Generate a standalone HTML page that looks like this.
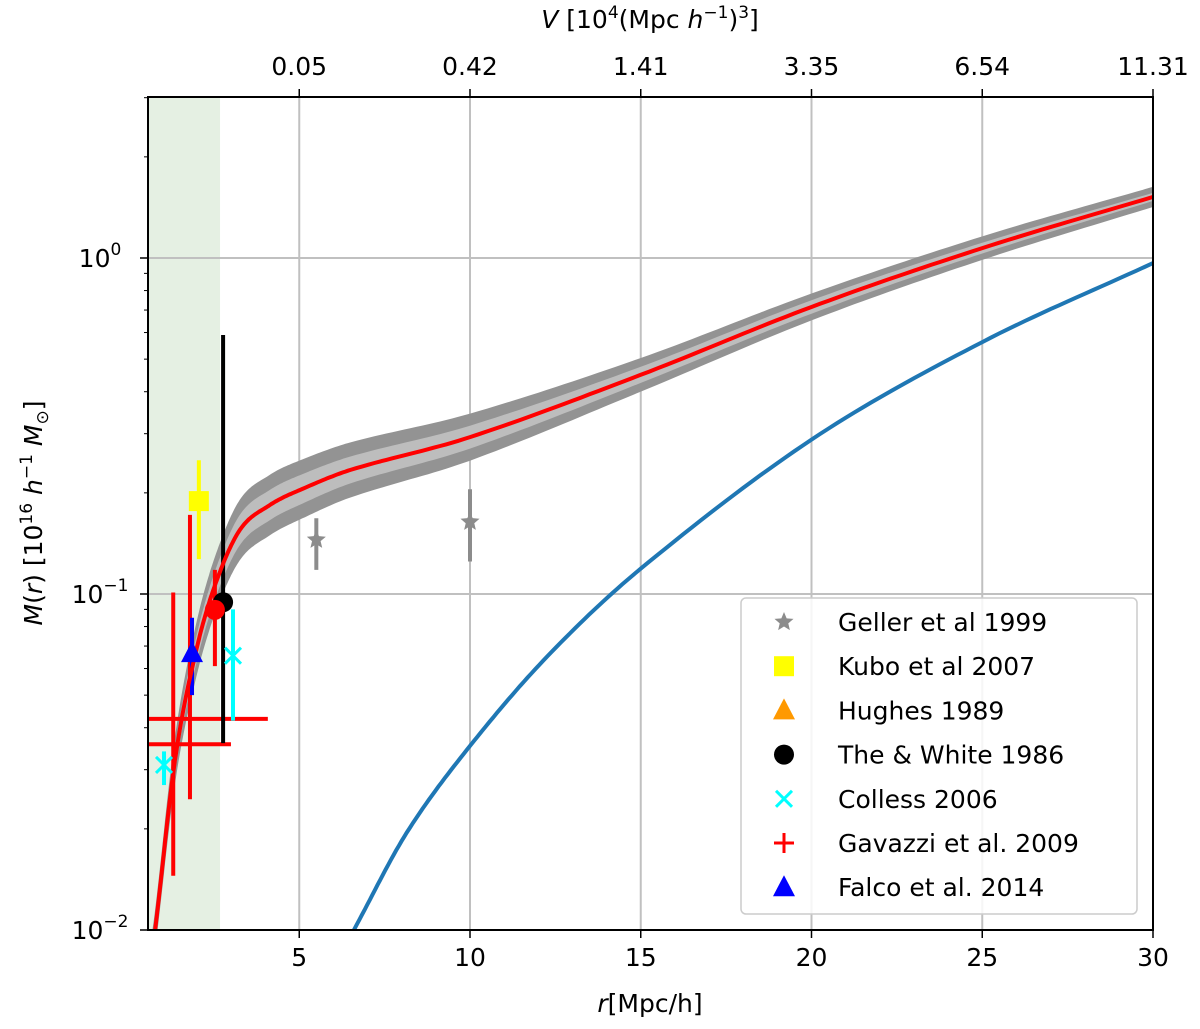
<!DOCTYPE html>
<html><head><meta charset="utf-8"><style>
body{margin:0;background:#fff}
svg{display:block;font-family:"DejaVu Sans","Liberation Sans",sans-serif}
</style></head><body>
<svg id="chart" width="1200" height="1029" viewBox="0 0 1200 1029" xmlns="http://www.w3.org/2000/svg">
<defs><clipPath id="clip"><rect x="148" y="97" width="1005" height="833"/></clipPath></defs>
<g id="plot" clip-path="url(#clip)"></g>
<g id="axes"></g>
</svg>
<script>
const curveR=[0.6,0.78,1.36,1.95,2.53,3.26,4.14,5.02,6.5,10,15,20,25,30];
const curveM=[0.0075,0.01,0.032,0.0658,0.106,0.155,0.184,0.204,0.234,0.293,0.449,0.715,1.07,1.52];
const bandOuter=[0.06,0.06,0.07,0.08,0.085,0.09,0.09,0.088,0.082,0.07,0.05,0.04,0.035,0.03];
const bandInner=[0.03,0.03,0.035,0.04,0.042,0.045,0.045,0.044,0.04,0.034,0.024,0.02,0.016,0.012];
const blueR=[6.6,8.15,10,12.25,15,20,25,30];
const blueM=[0.01,0.0195,0.0353,0.065,0.119,0.288,0.562,0.966];
const gellerR=[5.5,10], gellerM=[0.145,0.164], gellerLo=[0.118,0.125], gellerHi=[0.168,0.205];
const kuboR=[2.06], kuboM=[0.189], kuboLo=[0.127], kuboHi=[0.25];
const theR=[2.77], theM=[0.0945], theLo=[0.036], theHi=[0.59];
const redDotR=[2.53], redDotM=[0.0897], redDotLo=[0.061], redDotHi=[0.118];
const falcoR=[1.86], falcoM=[0.0667], falcoLo=[0.05], falcoHi=[0.085];
const collessR=[3.06,1.04], collessM=[0.0655,0.031], collessLo=[0.042,0.027], collessHi=[0.09,0.034];
const gavR=[1.31,1.8], gavM=[0.0357,0.0425], gavLo=[0.0145,0.0245], gavHi=[0.101,0.172], gavXLo=[0.57,0.57], gavXHi=[3.0,4.08];
const xTicks=[5,10,15,20,25,30];
const topLabels=["0.05","0.42","1.41","3.35","6.54","11.31"];
const yDecades=[-2,-1,0];

const X=r=>128.5+34.15*r;
const Y=m=>258-336*Math.log10(m);
const NS="http://www.w3.org/2000/svg";
const plot=document.getElementById('plot'), axes=document.getElementById('axes');
function mk(tag,attrs,parent,txt){const e=document.createElementNS(NS,tag);for(const k in attrs)e.setAttribute(k,attrs[k]);if(txt!==undefined)e.textContent=txt;parent.appendChild(e);return e;}

function sample(rs,ls){const n=rs.length,t=[];for(let i=0;i<n;i++){if(i===0)t.push((ls[1]-ls[0])/(rs[1]-rs[0]));else if(i===n-1)t.push((ls[n-1]-ls[n-2])/(rs[n-1]-rs[n-2]));else t.push((ls[i+1]-ls[i-1])/(rs[i+1]-rs[i-1]));}
const out=[];for(let i=0;i<n-1;i++){const h=rs[i+1]-rs[i];for(let k=0;k<20;k++){const s=k/20,s2=s*s,s3=s2*s;
const v=(2*s3-3*s2+1)*ls[i]+(s3-2*s2+s)*h*t[i]+(-2*s3+3*s2)*ls[i+1]+(s3-s2)*h*t[i+1];out.push([X(rs[i]+s*h),258-336*v]);}}
out.push([X(rs[n-1]),258-336*ls[n-1]]);return out;}
const toPath=pts=>'M'+pts.map(p=>p[0].toFixed(1)+','+p[1].toFixed(1)).join(' L');

let e=mk('rect',{x:148,y:97,width:X(2.68)-148,height:833,fill:'#e5f0e3'},plot);


xTicks.forEach(t=>{const g=mk('line',{x1:X(t),x2:X(t),y1:97,y2:930,stroke:'#c0c0c0','stroke-width':2},plot);

});
yDecades.forEach(d=>{const g=mk('line',{x1:148,x2:1153,y1:Y(Math.pow(10,d)),y2:Y(Math.pow(10,d)),stroke:'#c0c0c0','stroke-width':2},plot);

});
const curveL=curveM.map(Math.log10);
function band(w,fill,name){const up=sample(curveR,curveL.map((l,i)=>l+w[i]));
const dn=sample(curveR,curveL.map((l,i)=>l-w[i])).reverse();
const p=mk('path',{d:toPath(up.concat(dn))+' Z',fill:fill},plot);

}
band(bandOuter,'#939393','outer-confidence-band');
band(bandInner,'#bdbdbd','inner-confidence-band');
e=mk('path',{d:toPath(sample(blueR,blueM.map(Math.log10))),fill:'none',stroke:'#1f77b4','stroke-width':4},plot);


function vbar(rs,lo,hi,col,w,name){rs.forEach((r,i)=>{const l=mk('line',{x1:X(r),x2:X(r),y1:Y(hi[i]),y2:Y(lo[i]),stroke:col,'stroke-width':w},plot);

});}
vbar(gavR,gavLo,gavHi,'#ff0000',4,'gavazzi-errorbar');
gavR.forEach((r,i)=>{const l=mk('line',{x1:X(gavXLo[i]),x2:X(gavXHi[i]),y1:Y(gavM[i]),y2:Y(gavM[i]),stroke:'#ff0000','stroke-width':4},plot);

});
vbar(gellerR,gellerLo,gellerHi,'#8c8c8c',4,'geller-errorbar');
vbar(kuboR,kuboLo,kuboHi,'#ffff00',4,'kubo-errorbar');
vbar(theR,theLo,theHi,'#000',4,'the-white-errorbar');
vbar(falcoR,falcoLo,falcoHi,'#0000ff',4,'falco-errorbar');
vbar(collessR,collessLo,collessHi,'#00ffff',4,'colless-errorbar');
vbar(redDotR,redDotLo,redDotHi,'#ff0000',4,'red-dot-errorbar');
e=mk('path',{d:toPath(sample(curveR,curveL)),fill:'none',stroke:'#ff0000','stroke-width':4},plot);


function star(cx,cy,R,col,parent){let p=[];for(let i=0;i<10;i++){const a=-Math.PI/2+i*Math.PI/5,rr=i%2?R*0.45:R;p.push((cx+rr*Math.cos(a))+','+(cy+rr*Math.sin(a)));}return mk('polygon',{points:p.join(' '),fill:col},parent);}
function marker(type,cx,cy,parent){
 if(type==='star')return star(cx,cy,10,'#8c8c8c',parent);
 if(type==='square')return mk('rect',{x:cx-10,y:cy-10,width:20,height:20,fill:'#ffff00'},parent);
 if(type==='tri')return mk('polygon',{points:`${cx},${cy-12} ${cx+11},${cy+9} ${cx-11},${cy+9}`,fill:'#ff9900'},parent);
 if(type==='tri-blue')return mk('polygon',{points:`${cx},${cy-12} ${cx+11},${cy+9} ${cx-11},${cy+9}`,fill:'#0000ff'},parent);
 if(type==='circle-k')return mk('circle',{cx:cx,cy:cy,r:10,fill:'#000'},parent);
 if(type==='circle-r')return mk('circle',{cx:cx,cy:cy,r:10,fill:'#ff0000'},parent);
 if(type==='x'){const g=mk('g',{stroke:'#00ffff','stroke-width':3},parent);mk('line',{x1:cx-8,y1:cy-8,x2:cx+8,y2:cy+8},g);mk('line',{x1:cx-8,y1:cy+8,x2:cx+8,y2:cy-8},g);return g;}
 if(type==='plus'){const g=mk('g',{stroke:'#ff0000','stroke-width':3},parent);mk('line',{x1:cx-10,y1:cy,x2:cx+10,y2:cy},g);mk('line',{x1:cx,y1:cy-10,x2:cx,y2:cy+10},g);return g;}
}
gellerR.forEach((r,i)=>{const m=marker('star',X(r),Y(gellerM[i]),plot);});
kuboR.forEach((r,i)=>{const m=marker('square',X(r),Y(kuboM[i]),plot);});
theR.forEach((r,i)=>{const m=marker('circle-k',X(r),Y(theM[i]),plot);});
redDotR.forEach((r,i)=>{const m=marker('circle-r',X(r),Y(redDotM[i]),plot);});
falcoR.forEach((r,i)=>{const m=marker('tri-blue',X(r),Y(falcoM[i]),plot);});
collessR.forEach((r,i)=>{const m=marker('x',X(r),Y(collessM[i]),plot);});

e=mk('rect',{x:148,y:97,width:1005,height:833,fill:'none',stroke:'#000','stroke-width':2},axes);


xTicks.forEach((t,i)=>{mk('line',{x1:X(t),x2:X(t),y1:930,y2:938,stroke:'#000','stroke-width':1.5},axes);
const tl=mk('text',{x:X(t),y:966,'font-size':25,'text-anchor':'middle'},axes,String(t));


mk('line',{x1:X(t),x2:X(t),y1:97,y2:89,stroke:'#000','stroke-width':1.5},axes);
const tt=mk('text',{x:X(t),y:75,'font-size':25,'text-anchor':'middle'},axes,topLabels[i]);

});
yDecades.forEach(d=>{const y=Y(Math.pow(10,d));mk('line',{x1:140,x2:148,y1:y,y2:y,stroke:'#000','stroke-width':1.5},axes);
const t=mk('text',{x:100,y:y+9,'font-size':25,'text-anchor':'middle'},axes);


mk('tspan',{},t,'10');mk('tspan',{dy:-12,'font-size':17},t,String(d).replace('-','−'));
for(let k=2;k<10;k++){const m=k*Math.pow(10,d);const yy=Y(m);if(yy<97)continue;mk('line',{x1:144,x2:148,y1:yy,y2:yy,stroke:'#000','stroke-width':1},axes);}});
e=mk('text',{x:650,y:1012,'font-size':25,'text-anchor':'middle'},axes);


e.innerHTML='<tspan font-style="italic">r</tspan>[Mpc/h]';
e=mk('text',{x:650,y:28,'font-size':25,'text-anchor':'middle'},axes);


e.innerHTML='<tspan font-style="italic">V</tspan> [10<tspan dy="-10" font-size="17">4</tspan><tspan dy="10">(Mpc </tspan><tspan font-style="italic">h</tspan><tspan dy="-10" font-size="17">−1</tspan><tspan dy="10">)</tspan><tspan dy="-10" font-size="17">3</tspan><tspan dy="10">]</tspan>';
e=mk('text',{transform:'translate(42,513) rotate(-90)','font-size':25,'text-anchor':'middle'},axes);


e.innerHTML='<tspan font-style="italic">M</tspan>(<tspan font-style="italic">r</tspan>) [10<tspan dy="-10" font-size="17">16</tspan><tspan dy="10"> </tspan><tspan font-style="italic">h</tspan><tspan dy="-10" font-size="17">−1</tspan><tspan dy="10" font-style="italic"> M</tspan><tspan dy="6" font-size="17">⊙</tspan><tspan dy="-6">]</tspan>';

const legLabels=["Geller et al 1999","Kubo et al 2007","Hughes 1989","The & White 1986","Colless 2006","Gavazzi et al. 2009","Falco et al. 2014"];
const legTypes=['star','square','tri','circle-k','x','plus','tri-blue'];
const leg=mk('g',{},axes);


mk('rect',{x:741,y:598,width:396,height:316,rx:5,fill:'#fff','fill-opacity':0.85,stroke:'#ccc','stroke-width':1.5},leg);
legLabels.forEach((l,i)=>{const y=622+i*44.2;const g=mk('g',{},leg);


marker(legTypes[i],784,y,g);
mk('text',{x:838,y:y+9,'font-size':25},g,l);});
</script>
</body></html>
